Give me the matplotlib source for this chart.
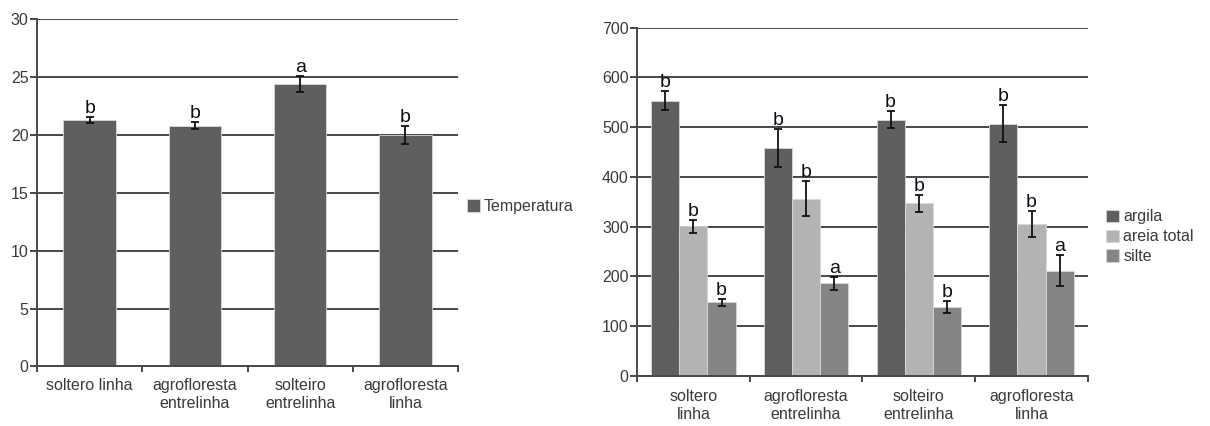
import numpy as np
import matplotlib
matplotlib.use("Agg")
import matplotlib.pyplot as plt
from matplotlib.ticker import FixedLocator, NullFormatter

plt.rcParams['font.family'] = ['Liberation Sans', 'DejaVu Sans']

# Left chart data
temp_cats = ["soltero linha", "agrofloresta\nentrelinha", "solteiro\nentrelinha", "agrofloresta\nlinha"]
temp_vals = [21.3, 20.8, 24.4, 20.0]
temp_err = [0.25, 0.28, 0.7, 0.75]
temp_letters = ["b", "b", "a", "b"]

# Right chart data
soil_cats = ["soltero\nlinha", "agrofloresta\nentrelinha", "solteiro\nentrelinha", "agrofloresta\nlinha"]
soil_series = ["argila", "areia total", "silte"]
argila_vals = [553, 459, 515, 507]
argila_err = [19, 38, 17, 37]
areia_vals = [301, 356, 347, 306]
areia_err = [13, 35, 17, 26]
silte_vals = [148, 186, 138, 212]
silte_err = [7, 13, 12, 31]
argila_letters = ["b", "b", "b", "b"]
areia_letters = ["b", "b", "b", "b"]
silte_letters = ["b", "a", "b", "a"]

grid_c = "#484848"
text_c = "#3a3a3a"
colors = ["#5f5f5f", "#b3b3b3", "#858585"]
err_kw = dict(ecolor="#111111", elinewidth=1.3, capthick=1.3)


def style_axes(ax, ymax, ystep, ncat, labels, pad):
    ax.set_xlim(0, ncat)
    ax.set_ylim(0, ymax)
    ax.set_yticks(np.arange(0, ymax + 1, ystep))
    ax.yaxis.grid(True, color=grid_c, linewidth=1.4)
    ax.set_axisbelow(True)
    for s in ["top", "right"]:
        ax.spines[s].set_visible(False)
    for s in ["left", "bottom"]:
        ax.spines[s].set_color(grid_c)
        ax.spines[s].set_linewidth(1.4)
    # boundaries get tick marks, labels sit at category centers
    ax.xaxis.set_major_locator(FixedLocator(np.arange(ncat + 1)))
    ax.xaxis.set_major_formatter(NullFormatter())
    ax.xaxis.set_minor_locator(FixedLocator(np.arange(ncat) + 0.5))
    ax.set_xticklabels(labels, minor=True)
    ax.tick_params(axis="x", which="major", length=4, width=1.4, color=grid_c)
    ax.tick_params(axis="x", which="minor", length=0, pad=pad, labelsize=11.5, labelcolor=text_c)
    ax.tick_params(axis="y", length=5, width=1.4, color=grid_c, labelsize=11.5, labelcolor=text_c, pad=1)


def put_letters(ax, xs, vals, errs, letters):
    for x, v, e, l in zip(xs, vals, errs, letters):
        ax.annotate(l, (x, v + e), xytext=(0, 0), textcoords="offset points",
                    ha="center", va="bottom", fontsize=14, color="#10101c")


fig = plt.figure(figsize=(12.1, 4.26), dpi=100)

# Left: Temperatura
ax1 = fig.add_axes([0.0306, 0.1397, 0.3479, 0.8157])
x1 = np.arange(len(temp_cats)) + 0.5
ax1.bar(x1, temp_vals, width=0.5, color=colors[0], edgecolor="#d8d8d8", linewidth=0.6,
        yerr=temp_err, capsize=3, error_kw=err_kw, label="Temperatura")
put_letters(ax1, x1, temp_vals, temp_err, temp_letters)
style_axes(ax1, 30, 5, len(temp_cats), temp_cats, 8.5)
ax1.legend(loc="center left", bbox_to_anchor=(1.007, 0.46), frameon=False, fontsize=11.5,
           borderaxespad=0, handlelength=0.8, handleheight=0.8, handletextpad=0.25,
           labelcolor=text_c)

# Right: soil texture
ax2 = fig.add_axes([0.5264, 0.1174, 0.3727, 0.8176])
x2 = np.arange(len(soil_cats)) + 0.5
w = 0.25
groups = [(argila_vals, argila_err, argila_letters),
          (areia_vals, areia_err, areia_letters),
          (silte_vals, silte_err, silte_letters)]
for i, (vals, errs, lets) in enumerate(groups):
    xs = x2 + (i - 1) * w
    ax2.bar(xs, vals, width=w, color=colors[i], edgecolor="#d8d8d8", linewidth=0.6,
            yerr=errs, capsize=3, error_kw=err_kw, label=soil_series[i])
    put_letters(ax2, xs, vals, errs, lets)
style_axes(ax2, 700, 100, len(soil_cats), soil_cats, 9.5)
ax2.legend(loc="center left", bbox_to_anchor=(1.027, 0.40), frameon=False, fontsize=11.5,
           borderaxespad=0, handlelength=0.8, handleheight=0.8, handletextpad=0.25,
           labelspacing=0.3, labelcolor=text_c)

fig.savefig("out.png", dpi=100)
